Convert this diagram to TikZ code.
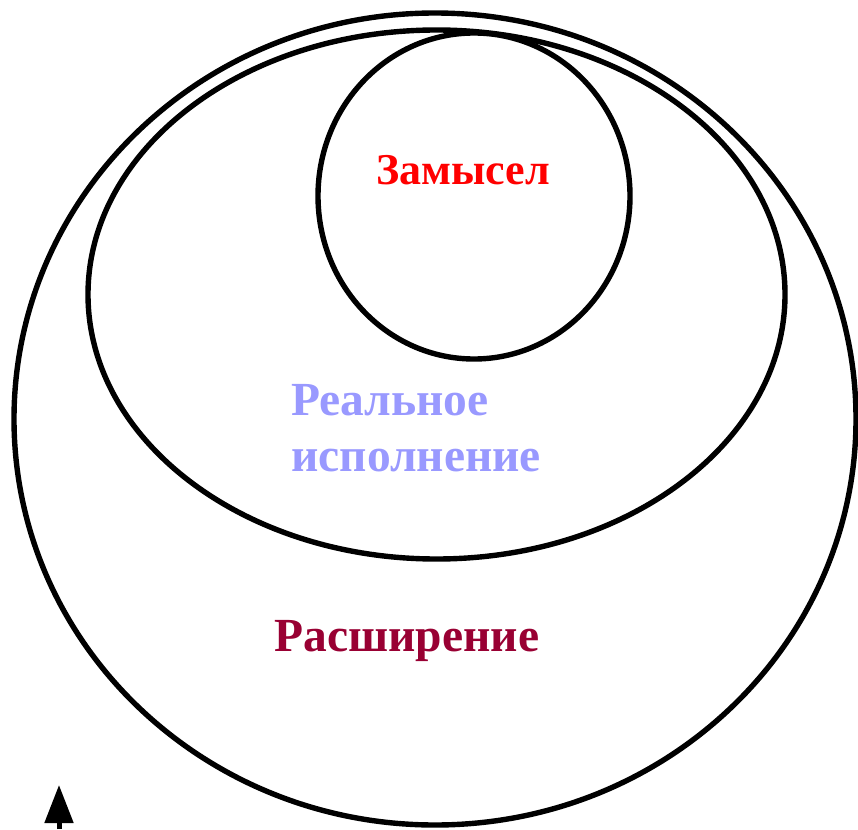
\documentclass[tikz,border=0pt]{standalone}
\usepackage{fontspec}
\setmainfont{Liberation Serif}
\usetikzlibrary{shapes.geometric,arrows.meta}
\definecolor{zred}{RGB}{255,0,0}
\definecolor{rblue}{RGB}{153,153,255}
\definecolor{wine}{RGB}{153,0,51}
\tikzset{
  ring/.style={draw=black, line width=5.4pt, ellipse, inner sep=0pt, outer sep=0pt},
  lbl/.style={font=\bfseries\fontsize{#1}{56}\selectfont, inner sep=0pt},
  lbl/.default=47
}
\begin{document}
\begin{tikzpicture}[x=1pt,y=1pt]
\useasboundingbox (0,0) rectangle (858,-829);
\node[ring, minimum width=842pt, minimum height=812pt] (outer) at (435,-419) {};
\node[ring, minimum width=697pt, minimum height=529pt] (middle) at (436.5,-294.5) {};
\node[ring, minimum width=312pt, minimum height=326pt] (inner) at (474,-196) {};
\node[lbl=44, text=zred] (zam) at (463,-170) {Замысел};
\node[lbl=47.5, text=rblue, align=left, anchor=west] (real) at (291,-428) {Реальное\\исполнение};
\node[lbl=47.5, text=wine] (ras) at (407,-641) {Расширение};
\coordinate (abot) at (59,-829);
\coordinate (atip) at (59,-785);
\draw[line width=5pt, -{Triangle[length=38pt,width=28pt]}] (abot) -- (atip);
\end{tikzpicture}
\end{document}
